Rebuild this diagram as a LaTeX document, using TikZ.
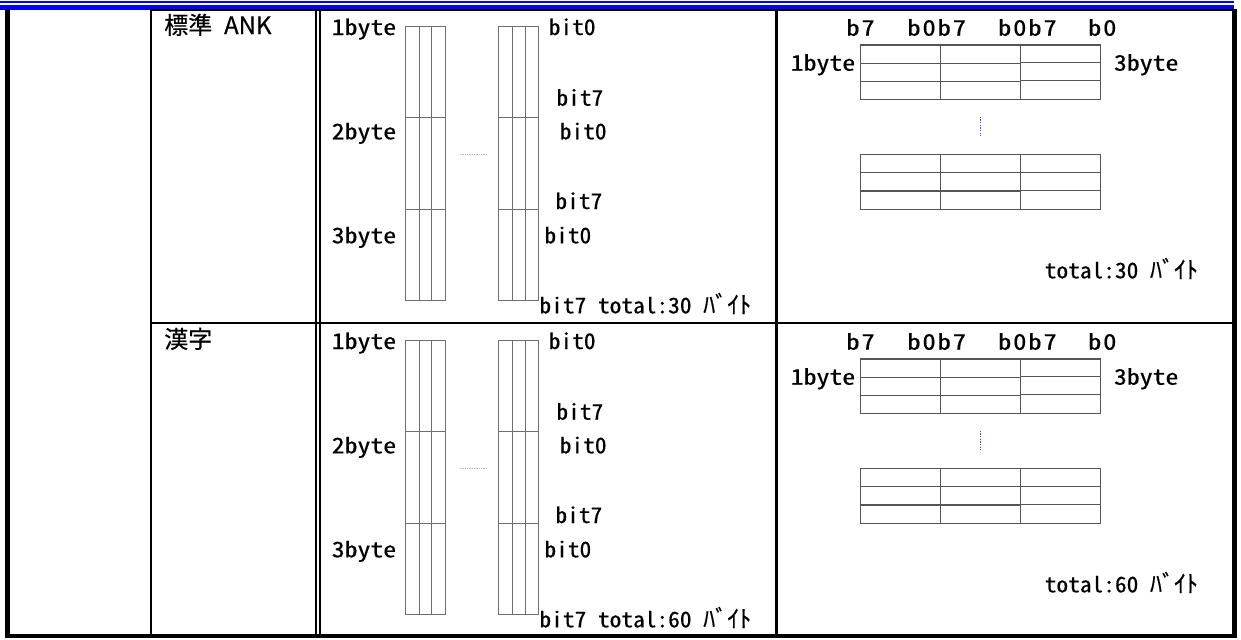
\documentclass[tikz,border=0pt]{standalone}
\usepackage{fontspec}
\newfontfamily\myLatFam[RawFeature=+hwid,FakeStretch=1.09,FakeBold=0.5]{Noto Sans CJK JP}
\newfontfamily\myByteFam[RawFeature=+hwid,FakeStretch=1.2,FakeBold=0.5]{Noto Sans CJK JP}
\newfontfamily\myBFam[RawFeature=+hwid,FakeStretch=1.25,FakeBold=0.5,LetterSpace=8]{Noto Sans CJK JP}
\newfontfamily\myJpFam[WordSpace=2.2,FakeBold=0.5]{Noto Sans CJK JP}
\newcommand\myLat{\myLatFam\fontsize{16.1pt}{20pt}\selectfont}
\newcommand\myByte{\myByteFam\fontsize{16.1pt}{20pt}\selectfont}
\newcommand\myB{\myBFam\fontsize{16.1pt}{20pt}\selectfont}
\newcommand\myJp{\myJpFam\fontsize{18pt}{21pt}\selectfont}
\definecolor{bandblue}{RGB}{0,0,255}
\definecolor{barline}{RGB}{110,110,110}
\definecolor{gridline}{RGB}{85,85,85}
\begin{document}
\begin{tikzpicture}[x=0.75pt,y=-0.75pt,
  lbl/.style={anchor=base west,inner sep=0pt,font=\myLat},
  blbl/.style={anchor=base west,inner sep=0pt,font=\myByte},
  hlbl/.style={anchor=base west,inner sep=0pt,font=\myB},
  jlbl/.style={anchor=base west,inner sep=0pt,font=\myJp},
  bar/.style={draw=barline,line width=0.75pt},
  grid/.style={draw=gridline,line width=0.9pt},
  gap/.style={draw=gray!55,line width=0.45pt,dash pattern=on 1pt off 0.75pt},
  vgap/.style={draw=blue!75,line width=0.45pt,dash pattern=on 1pt off 1pt},
]
\useasboundingbox (0,0) rectangle (1241,639);
% blue band at the top
\fill[bandblue] (0,1) rectangle (1234,3);
\fill[bandblue] (0,5.3) rectangle (1234,10);
% table rules
\fill (150,9) rectangle (1236.5,11);
\fill (5,9) rectangle (9.5,638.3);
\fill (5,633.5) rectangle (1236.5,638.3);
\fill (1232,9) rectangle (1236.5,638.3);
\fill (150,9) rectangle (151.8,634);
\fill (315,9) rectangle (317,634);
\fill (319,9) rectangle (321,634);
\fill (775.3,9) rectangle (777.5,634);
\fill (150,321.8) rectangle (1234,323.8);
% rows
\foreach \dy/\tot/\cat in {0/30/標準 ANK, 314/60/漢字}{
\begin{scope}[shift={(0,\dy)}]
  \node[jlbl] (cat-\dy) at (164,34) {\cat};
  % vertical byte bars
  \foreach \xa/\xb/\xc/\xd in {405/419/431.7/445.3, 498.3/512/525.3/538.7}{
    \draw[bar] (\xa,26.7) rectangle (\xd,300);
    \draw[bar] (\xb,26.7) -- (\xb,300);
    \draw[bar] (\xc,26.7) -- (\xc,300);
    \draw[bar] (\xa,117.7) -- (\xd,117.7);
    \draw[bar] (\xa,209.3) -- (\xd,209.3);
  }
  \draw[gap] (460,154) -- (486,154);
  \node[blbl] (by1-\dy) at (331.5,35) {1byte};
  \node[blbl] (by2-\dy) at (331.5,139.3) {2byte};
  \node[blbl] (by3-\dy) at (331.5,243.3) {3byte};
  \node[lbl] (bA-\dy) at (548.5,35) {bit0};
  \node[lbl] (bB-\dy) at (556.2,105.7) {bit7};
  \node[lbl] (bC-\dy) at (559.5,139.3) {bit0};
  \node[lbl] (bD-\dy) at (555.2,209) {bit7};
  \node[lbl] (bE-\dy) at (544.2,243.3) {bit0};
  \node[lbl] (bF-\dy) at (539.2,313.3) {bit7 total:\tot\ {\myJp ﾊﾞｲﾄ}};
  % horizontal byte grids
  \draw[grid] (860.7,45) rectangle (1100.7,99.3);
  \draw[grid] (940.7,45) -- (940.7,99.3);
  \draw[grid] (1020.7,45) -- (1020.7,99.3);
  \draw[grid] (860.7,63.3) -- (1020.7,63.3);
  \draw[grid] (860.7,81.3) -- (1020.7,81.3);
  \draw[grid] (1020.7,62.3) -- (1100.7,62.3);
  \draw[grid] (1020.7,80.7) -- (1100.7,80.7);
  \draw[vgap] (980.3,116.7) -- (980.3,135.7);
  \draw[grid] (860.7,154.3) rectangle (1100.7,209.3);
  \draw[grid] (940.7,154.3) -- (940.7,209.3);
  \draw[grid] (1020.7,154.3) -- (1020.7,209.3);
  \draw[grid] (860.7,172.7) -- (1100.7,172.7);
  \draw[grid] (860.7,191) -- (1020.7,191);
  \draw[grid] (1020.7,190.3) -- (1100.7,190.3);
  \node[hlbl] (h1-\dy) at (846,35.7) {b7};
  \node[hlbl] (h2-\dy) at (907,35.7) {b0b7};
  \node[hlbl] (h3-\dy) at (997.7,35.7) {b0b7};
  \node[hlbl] (h4-\dy) at (1087.7,35.7) {b0};
  \node[blbl] (hb1-\dy) at (790.5,70.7) {1byte};
  \node[blbl] (hb3-\dy) at (1113.7,70.7) {3byte};
  \node[lbl] (ht-\dy) at (1044.5,278.3) {total:\tot\ {\myJp ﾊﾞｲﾄ}};
\end{scope}
}
\end{tikzpicture}
\end{document}
